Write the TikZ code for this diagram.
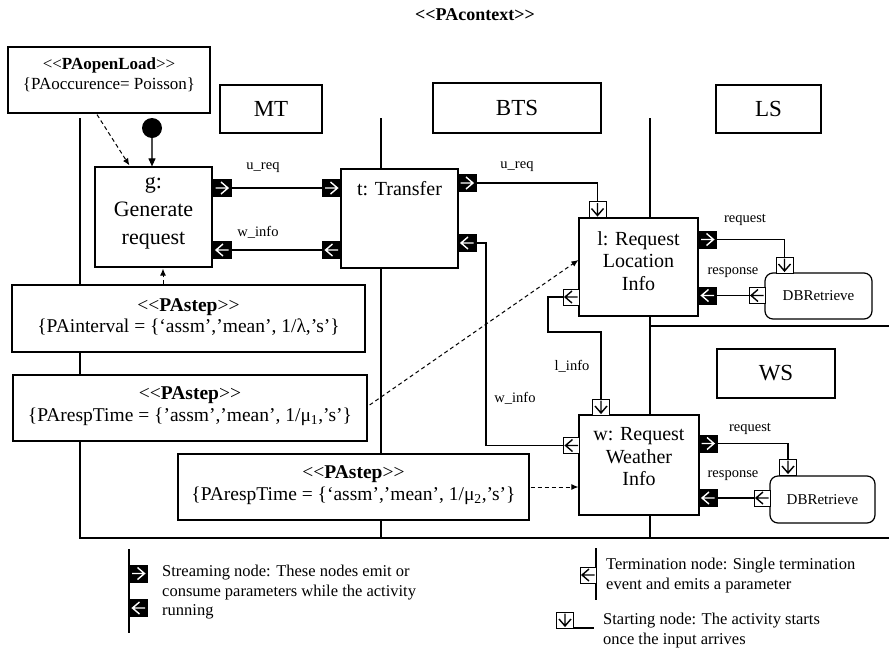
\documentclass[tikz,border=0pt]{standalone}
\usepackage{fontspec}
\setmainfont{Liberation Serif}
\usetikzlibrary{arrows.meta,calc}
\newcommand\stL{<\kern0pt<}
\newcommand\stR{>\kern0pt>}
\begin{document}
\begin{tikzpicture}[x=1pt,y=-1pt,
  lane/.style={line width=1.3pt},
  box/.style={draw, line width=1.2pt, fill=white, inner sep=0pt},
  txt/.style={inner sep=0pt, align=center},
  lanebox/.style={box, font=\fontsize{23}{26}\selectfont},
  pa/.style={txt, font=\fontsize{19.5}{21.5}\selectfont},
  acttxt/.style={txt, font=\fontsize{20}{22.5}\selectfont},
  db/.style={box, rounded corners=8pt, font=\fontsize{15}{17}\selectfont},
  conn/.style={line width=1.1pt},
  lbl/.style={inner sep=0pt, font=\fontsize{14.5}{16}\selectfont},
  legend/.style={inner sep=0pt, align=left, font=\fontsize{16.5}{19.5}\selectfont},
  dasharr/.style={line width=1pt, dash pattern=on 4pt off 3pt, -{Latex[length=7pt,width=6pt]}},
  sport/.style={draw, fill=black, line width=0.6pt, inner sep=0pt, outer sep=0pt, minimum width=18pt, minimum height=17pt},
  tport/.style={draw, fill=white, line width=0.9pt, inner sep=0pt, outer sep=0pt, minimum width=16pt, minimum height=16pt},
  bport/.style={draw, fill=white, line width=0.9pt, inner sep=0pt, outer sep=0pt, minimum width=17pt, minimum height=16pt},
  chR/.style={path picture={\draw[#1,line width=1.4pt] let \p1=(path picture bounding box.center) in
      (\x1-6.5pt,\y1) -- (\x1+6pt,\y1) (\x1-1pt,\y1+6pt) -- (\x1+6pt,\y1) -- (\x1-1pt,\y1-6pt);}},
  chL/.style={path picture={\draw[#1,line width=1.4pt] let \p1=(path picture bounding box.center) in
      (\x1+6.5pt,\y1) -- (\x1-6pt,\y1) (\x1+1pt,\y1+6pt) -- (\x1-6pt,\y1) -- (\x1+1pt,\y1-6pt);}},
  chD/.style={path picture={\draw[#1,line width=1.4pt] let \p1=(path picture bounding box.center) in
      (\x1,\y1+6.5pt) -- (\x1,\y1-6pt) (\x1-6pt,\y1+1pt) -- (\x1,\y1-6pt) -- (\x1+6pt,\y1+1pt);}}
]
\useasboundingbox (0,0) rectangle (889,654);

% title
\node[txt, font=\fontsize{18}{20}\selectfont\bfseries] (title) at (475,15) {\stL PAcontext\stR};

% partitions
\draw[lane] (80,118) -- (80,538) -- (889,538);
\draw[lane] (381,118) -- (381,538);
\draw[lane] (650,118) -- (650,538);
\draw[lane] (650,326) -- (889,326);

% lane titles
\node[lanebox, minimum width=102, minimum height=48] (MT) at (271,109) {MT};
\node[lanebox, minimum width=168, minimum height=50] (BTS) at (517,108) {BTS};
\node[lanebox, minimum width=105, minimum height=48] (LS) at (768.5,109) {LS};
\node[lanebox, minimum width=118, minimum height=49] (WS) at (776,373.5) {WS};

% open load
\node[box, minimum width=202, minimum height=66] (ol) at (109,80) {};
\node[txt, font=\fontsize{17}{20}\selectfont] (olt) at (109,75) {\stL\textbf{PAopenLoad}\stR\\\{PAoccurence= Poisson\}};

% activities
\node[box, minimum width=117, minimum height=100] (g) at (153.5,217) {};
\node[txt, font=\fontsize{22}{28}\selectfont] (gt) at (153.5,213) {g:\\Generate\\request};
\node[box, minimum width=117, minimum height=99] (t) at (399.5,218.5) {};
\node[acttxt] (tt) at (399.5,189) {t: Transfer};
\node[box, minimum width=119, minimum height=98] (l) at (638.5,267) {};
\node[acttxt] (lt) at (638.5,261) {l: Request\\Location\\Info};
\node[box, minimum width=120, minimum height=100] (w) at (639,465) {};
\node[acttxt] (wt) at (639,457) {w: Request\\Weather\\Info};
\node[db, minimum width=107, minimum height=46] (db1) at (818.5,296) {DBRetrieve};
\node[db, minimum width=105, minimum height=47] (db2) at (822.5,499.5) {DBRetrieve};

% PAstep boxes
\node[box, minimum width=353, minimum height=67] (pi) at (188.5,318.5) {};
\node[pa] (pit) at (188.5,317) {\stL\textbf{PAstep}\stR\\\{PAinterval = \{‘assm’,’mean’, 1/λ,’s’\}};
\node[box, minimum width=354, minimum height=66] (r1) at (190,408) {};
\node[pa] (r1t) at (190,406) {\stL\textbf{PAstep}\stR\\\{PArespTime = \{’assm’,’mean’, 1/μ\textsubscript{1},’s’\}};
\node[box, minimum width=351, minimum height=66] (r2) at (353.5,487) {};
\node[pa] (r2t) at (353.5,485) {\stL\textbf{PAstep}\stR\\\{PArespTime = \{‘assm’,’mean’, 1/μ\textsubscript{2},’s’\}};

% initial node
\node[circle, fill=black, minimum size=20pt, inner sep=0pt] (init) at (152,128) {};
\draw[conn, black!70, -{Triangle[length=8pt,width=7pt,black]}] (init) -- (g.north -| init);

% ports
\node[sport, chR=white] (gout) at (222,188) {};
\node[sport, chL=white] (gin) at (222,250) {};
\node[sport, chR=white] (tin) at (331.5,188) {};
\node[sport, chL=white] (tback) at (331.5,250) {};
\node[sport, chR=white] (tout) at (467,183) {};
\node[sport, chL=white] (tin2) at (467,243) {};
\node[bport, chD=black] (lstart) at (597.5,209.5) {};
\node[sport, chR=white] (lreq) at (707.5,239.5) {};
\node[sport, chL=white] (lresp) at (707.5,295.5) {};
\node[tport, chL=black] (lterm) at (571,297) {};
\node[bport, chD=black] (db1start) at (784.5,265) {};
\node[tport, chL=black] (db1term) at (757,295.5) {};
\node[bport, chD=black] (wstart) at (601,407) {};
\node[tport, chL=black] (wterm) at (571.5,445.5) {};
\node[sport, chR=white] (wreq) at (708,443.5) {};
\node[sport, chL=white] (wresp) at (708,498) {};
\node[bport, chD=black] (db2start) at (788,467) {};
\node[tport, chL=black] (db2term) at (762,498) {};

% connectors
\draw[conn] (gout.east) -- (tin.west);
\draw[conn] (gin.east) -- (tback.west);
\draw[conn] (tout.east) -| (lstart.north);
\draw[conn] (tin2.east) -- ++(10,0) |- (wterm.west);
\draw[conn] (lreq.east) -| (db1start.north);
\draw[conn] (db1term.west) -- (lresp.east);
\draw[conn] (lterm.west) -- ++(-15,0) -- ++(0,35) -| (wstart.north);
\draw[conn] (wreq.east) -| (db2start.north);
\draw[conn] (db2term.west) -- (wresp.east);

% labels
\node[lbl] (l1) at (263,168) {u\_req};
\node[lbl] (l2) at (258,232) {w\_info};
\node[lbl] (l3) at (517,167) {u\_req};
\node[lbl] (l4) at (745,220) {request};
\node[lbl] (l5) at (733,273) {response};
\node[lbl] (l6) at (572,366) {l\_info};
\node[lbl] (l7) at (515,398) {w\_info};
\node[lbl] (l8) at (750,429) {request};
\node[lbl] (l9) at (733,476) {response};

% dashed annotations
\draw[dasharr] ($(ol.south)+(-12,1)$) -- ($(g.north west)+(35,-1)$);
\draw[dasharr] ($(pi.north)+(-25.5,0)$) -- ($(g.south)+(9.5,1)$);
\draw[dasharr] ($(r1.east)+(2,-3)$) -- ($(l.west)+(0,-7)$);
\draw[dasharr] ($(r2.east)+(1,0)$) -- (r2.east -| w.west);

% legend
\draw[lane] (129,549) -- (129,633);
\node[sport, chR=white, anchor=west] (lg1) at (129.5,573.5) {};
\node[sport, chL=white, anchor=west] (lg2) at (129.5,608) {};
\node[legend, anchor=north west] (lgt1) at (162,565) {Streaming node: These nodes emit or\\consume parameters while the activity\\running};
\draw[lane] (596,548) -- (596,600);
\node[tport, chL=black, anchor=east] (lg3) at (596,575) {};
\node[legend, anchor=north west] (lgt2) at (606,558) {Termination node: Single termination\\event and emits a parameter};
\node[bport, chD=black] (lg4) at (565,620) {};
\draw[lane] (lg4.south east) -- ++(20,0);
\node[legend, anchor=north west] (lgt3) at (603,613) {Starting node: The activity starts\\once the input arrives};
\end{tikzpicture}
\end{document}
